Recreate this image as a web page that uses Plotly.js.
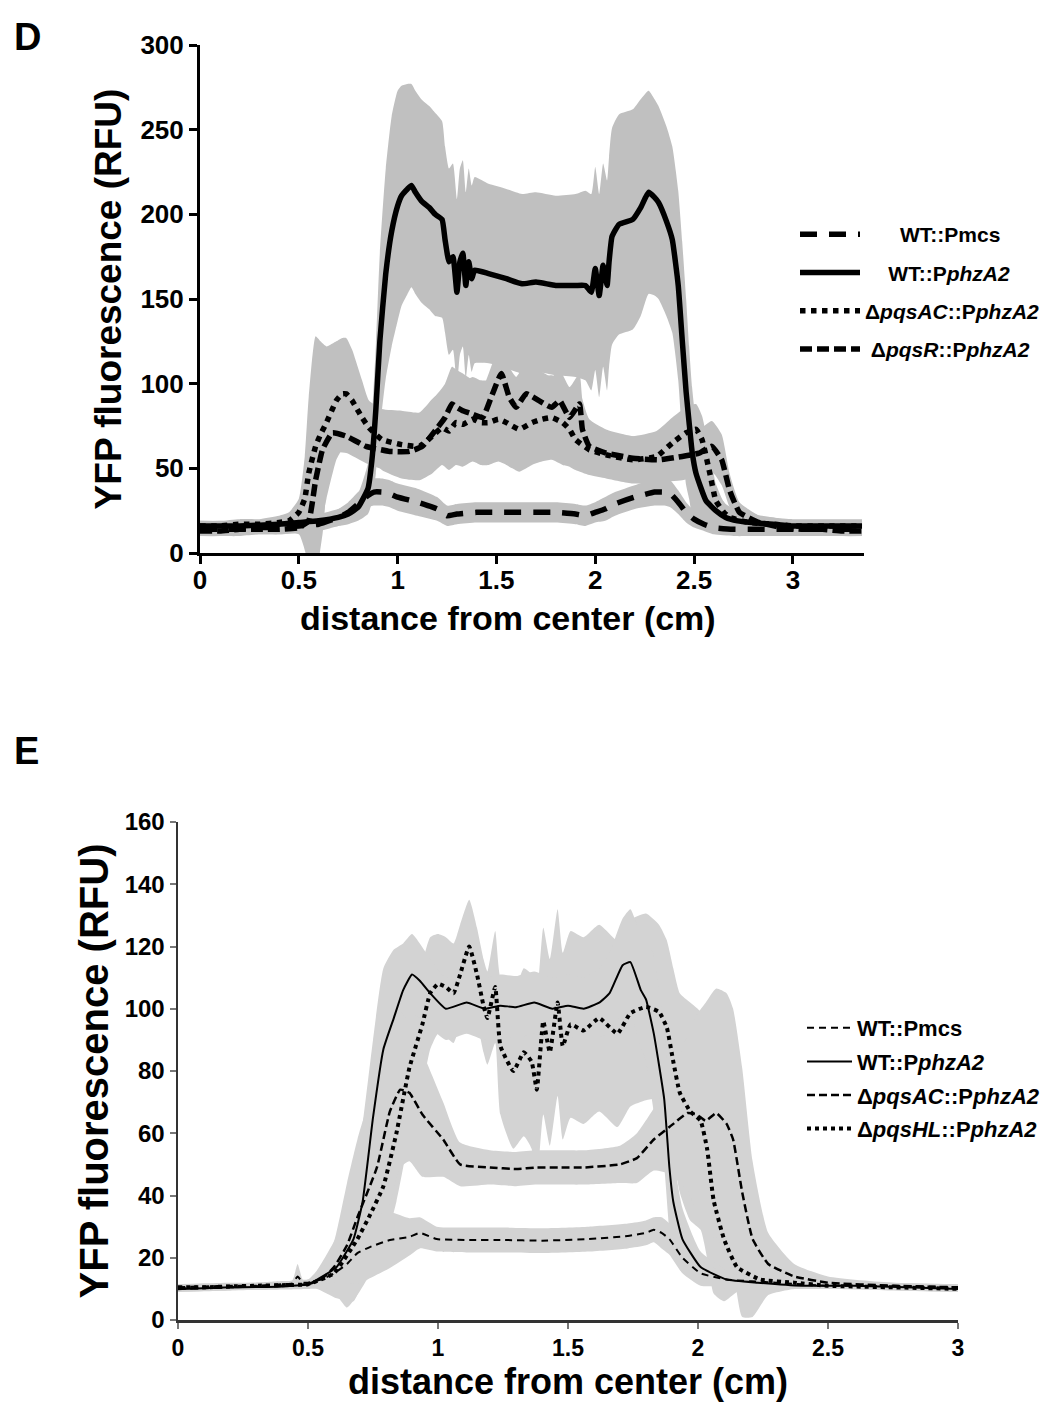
<!DOCTYPE html>
<html>
<head>
<meta charset="utf-8">
<script src="https://cdn.plot.ly/plotly-3.0.1.min.js"></script>
<style>html,body{margin:0;padding:0;background:#fff;}#chart{width:1045px;height:1404px;}</style>
</head>
<body>
<div id="chart"></div>
<script>
// ---------------- Panel D data ----------------
const D_names = ['WT::Pmcs', 'WT::P<i>phzA2</i>', 'Δ<i>pqsAC</i>::P<i>phzA2</i>', 'Δ<i>pqsR</i>::P<i>phzA2</i>'];

const D_x_Pmcs = [0,0.1,0.2,0.3,0.4,0.5,0.6,0.7,0.75,0.8,0.85,0.88,0.92,0.96,1.0,1.1,1.2,1.25,1.3,1.4,1.5,1.6,1.7,1.8,1.9,1.95,2.0,2.05,2.1,2.2,2.3,2.35,2.38,2.42,2.46,2.5,2.55,2.6,2.7,2.8,2.9,3.0,3.1,3.2,3.3,3.35];
const D_y_Pmcs = [14,14,14,15,15,16,17,21,24,29,34,36,36,35,33,30,26,22,23,24,24,24,24,24,23,22,24,26,29,33,36,36,35,30,24,20,17,15,14,14,14,14,14,14,14,14];
const D_sd_Pmcs = [4,4,4,4,4,4,4,5,6,7,7,8,8,8,8,8,7,6,6,6,6,6,6,6,6,6,6,7,7,7,8,8,8,7,6,5,4,4,4,4,4,4,4,4,4,4];

const D_x_WT = [0,0.2,0.4,0.5,0.6,0.7,0.75,0.8,0.85,0.87,0.89,0.91,0.94,0.97,1.0,1.02,1.05,1.07,1.09,1.12,1.16,1.19,1.225,1.24,1.26,1.28,1.30,1.315,1.33,1.345,1.36,1.375,1.39,1.46,1.55,1.63,1.7,1.8,1.9,1.95,1.98,2.0,2.02,2.04,2.06,2.07,2.085,2.12,2.19,2.23,2.27,2.3,2.32,2.36,2.39,2.42,2.44,2.46,2.475,2.49,2.51,2.56,2.61,2.66,2.72,2.79,2.9,3.0,3.1,3.2,3.35];
const D_y_WT = [16,16,17,18,19, 21,23,27,38,55, 85,125,165,190,205, 211,215,217,213,208, 204,200,197,185,172, 175,154,172,177,158, 172,162,167,165,162, 159,160,158,158,158, 154,168,152,170,158, 172,187,194,197,204, 213,210,207,196,185, 158,126,95,77,60, 47,31,25,21,19, 18,17,16,16,16, 16];
const D_sd_WT = [3,3,3,3,4, 5,6,8,15,25, 38,52,62,68,68, 65,62,60,60,60, 60,60,58,55,55, 55,55,55,55,55, 55,55,55,53,53, 53,53,53,54,56, 58,60,60,60,62, 62,64,65,65,64, 60,58,57,56,55, 56,58,55,45,38, 30,18,12,8,6, 5,4,4,4,4, 4];

const D_x_AC = [0,0.1,0.2,0.3,0.4,0.45,0.5,0.53,0.55,0.585,0.61,0.64,0.69,0.72,0.74,0.77,0.79,0.82,0.855,0.92,1.02,1.11,1.175,1.225,1.26,1.295,1.33,1.38,1.42,1.46,1.51,1.55,1.58,1.615,1.68,1.73,1.78,1.835,1.87,1.90,1.97,2.055,2.19,2.31,2.39,2.46,2.51,2.54,2.58,2.61,2.65,2.68,2.78,2.9,3.0,3.1,3.2,3.35];
const D_y_AC = [16,16,17,17,18, 19,24,32,47,63, 70,77,90,94,94, 90,86,80,74,67, 64,63,69,74,72, 77,76,79,77,77, 79,77,75,73,77, 79,80,77,73,67, 61,58,55,57,65, 71,73,67,47,31, 24,21,18,17,16, 16,16,16];
const D_sd_AC = [3,3,3,3,4, 5,8,25,45,65, 55,45,35,33,33, 30,27,22,16,18, 20,20,22,22,23, 25,25,25,25,25, 25,25,25,25,25, 25,25,25,22,18, 15,14,14,15,15, 15,15,14,12,10, 6,5,4,4,3, 3,3,3];

const D_x_R = [0,0.1,0.2,0.3,0.4,0.5,0.55,0.585,0.62,0.67,0.74,0.84,0.96,1.06,1.125,1.195,1.24,1.275,1.3,1.33,1.38,1.43,1.48,1.525,1.565,1.6,1.65,1.715,1.78,1.82,1.87,1.92,1.935,1.97,2.055,2.19,2.32,2.44,2.525,2.59,2.64,2.68,2.73,2.83,2.95,3.05,3.15,3.25,3.35];
const D_y_R = [13,13,14,14,14, 15,19,43,61,71, 69,63,60,60,63, 73,80,88,86,84, 82,80,94,106,92, 86,94,90,86,90, 80,88,73,63,59, 56,55,57,59,63, 55,37,24,18,15, 14,14,13,13];
const D_sd_R = [3,3,3,3,3, 4,25,55,50,12, 10,10,12,15,18, 20,20,22,22,22, 20,18,18,18,18, 18,18,18,18,18, 18,18,18,16,14, 13,13,14,14,15, 15,10,6,4,3, 3,3,3,3];

const D_xticks = [0,0.5,1,1.5,2,2.5,3];
const D_yticks = [0,50,100,150,200,250,300];

// ---------------- Panel E data ----------------
const E_names = ['WT::Pmcs', 'WT::P<i>phzA2</i>', 'Δ<i>pqsAC</i>::P<i>phzA2</i>', 'Δ<i>pqsHL</i>::P<i>phzA2</i>'];

const E_x_Pmcs = [0,0.1,0.2,0.3,0.4,0.44,0.46,0.48,0.5,0.55,0.6,0.65,0.69,0.74,0.815,0.89,0.93,0.995,1.12,1.25,1.4,1.58,1.73,1.8,1.83,1.86,1.89,1.94,2.01,2.11,2.3,2.5,2.75,3.0];
const E_y_Pmcs = [10.5,10.8,11,11,11.5, 11.8,14,12,12,13, 15,18,21.5,23.5,25.7, 26.7,28,26,25.7,25.7, 25.5,26,27,28,29, 28,26,20,15,13, 12,11,11,10.5];
const E_sd_Pmcs = [1,1,1,1,1, 1,4,1,1,1.5, 3,6,10,10,9, 6,5,4,4,4, 4,4,4,4,4, 5,5,5,4,2, 1,1,1,1];

const E_x_WT = [0,0.1,0.2,0.3,0.4,0.5,0.535,0.61,0.675,0.71,0.75,0.79,0.83,0.866,0.9,0.93,0.97,1.03,1.11,1.18,1.24,1.3,1.37,1.44,1.5,1.56,1.62,1.66,1.71,1.74,1.78,1.8,1.83,1.87,1.89,1.905,1.94,2.01,2.11,2.23,2.4,2.6,2.8,3.0];
const E_y_WT = [10,10.2,10.5,10.6,10.8, 11.5,13,17,26,38, 65,87,97,106,111, 109,105,100,102,100, 101,100.5,102,100,101, 100,102,105,114,115, 106,103,92,71,49, 38,26,17,13,12, 11,11,10.5,10];
const E_sd_WT = [1,1,1,1,1, 1.5,3,10,20,25, 25,26,22,15,13, 12,11,10,10,10, 10,10,10,10,10, 10,11,13,15,17, 18,20,25,22,20, 15,10,5,3,2, 1,1,1,1];

const E_x_AC = [0,0.1,0.2,0.3,0.4,0.5,0.55,0.6,0.65,0.69,0.765,0.815,0.855,0.89,0.94,1.02,1.085,1.2,1.3,1.38,1.47,1.56,1.7,1.765,1.83,1.89,1.96,1.995,2.03,2.07,2.11,2.135,2.17,2.21,2.27,2.37,2.5,2.75,3.0];
const E_y_AC = [10,10.3,10.5,10.8,11, 11.5,13,17,24,33, 49,67,74,73,66, 58,50,49,48.5,49, 49,49,50,52,58, 62,66.5,66,64,66.5, 63,58,41,26,18, 14,12,11,10.5];
const E_sd_AC = [1,1,1,1,1, 1,2,8,20,25, 30,30,25,22,20, 12,7,5.5,5.5,5.5, 5.5,5.5,6,8,10, 15,25,32,38,40, 42,42,40,25,10, 4,2,1,1];

const E_x_HL = [0,0.1,0.2,0.3,0.4,0.5,0.6,0.69,0.74,0.79,0.84,0.89,0.94,0.97,1.0,1.03,1.06,1.085,1.12,1.15,1.175,1.19,1.22,1.24,1.29,1.33,1.36,1.38,1.405,1.43,1.46,1.48,1.51,1.56,1.62,1.69,1.74,1.8,1.85,1.88,1.905,1.93,1.97,2.01,2.035,2.06,2.1,2.15,2.24,2.37,2.5,2.75,3.0];
const E_y_HL = [10.5,10.5,10.8,11,11.2, 11.5,15,26,34,43, 60,81,95,105,108, 107,105,111,120,111, 101,97,107,88,80, 86,83,74,96,86, 102,88,95,93,97, 92,98.6,100.6,99,94, 83,73,67,64,55, 38.5,26,17,13,12, 11,10.5,10];
const E_sd_HL = [1,1,1,1,1, 1,3,12,18,20, 22,22,20,18,16, 16,16,16,15,15, 15,15,18,22,25, 27,28,30,30,30, 30,30,30,30,30, 30,30,30,28,28, 30,32,35,35,35, 30,20,8,3,2, 1,1,1];

const E_xticks = [0,0.5,1,1.5,2,2.5,3];
const E_yticks = [0,20,40,60,80,100,120,140,160];

// ---------------- build traces ----------------
const FONT = 'Liberation Sans, Arial, Helvetica, sans-serif';
const NB = '\u00a0';

function band(x, y, sd, xa, ya, color) {
  const lo = y.map((v, i) => v - sd[i]);
  const hi = y.map((v, i) => v + sd[i]);
  const common = {x: x, xaxis: xa, yaxis: ya, mode: 'lines', showlegend: false, hoverinfo: 'skip',
                  line: {width: 0, shape: 'spline', smoothing: 0.5, color: color}};
  return [Object.assign({}, common, {y: lo}),
          Object.assign({}, common, {y: hi, fill: 'tonexty', fillcolor: color})];
}
function line(x, y, name, xa, ya, lw, dash, legend, group) {
  return {x: x, y: y, name: name, xaxis: xa, yaxis: ya, mode: 'lines', legend: legend, legendgroup: group,
          line: {color: '#000', width: lw, dash: dash, shape: 'spline', smoothing: 0.4}};
}

const gD = '#c0c0c0', gE = '#d3d3d3';
let traces = [];
traces = traces.concat(band(D_x_WT, D_y_WT, D_sd_WT, 'x', 'y', gD));
traces = traces.concat(band(D_x_AC, D_y_AC, D_sd_AC, 'x', 'y', gD));
traces = traces.concat(band(D_x_R, D_y_R, D_sd_R, 'x', 'y', gD));
traces = traces.concat(band(D_x_Pmcs, D_y_Pmcs, D_sd_Pmcs, 'x', 'y', gD));
traces = traces.concat(band(E_x_HL, E_y_HL, E_sd_HL, 'x2', 'y2', gE));
traces = traces.concat(band(E_x_WT, E_y_WT, E_sd_WT, 'x2', 'y2', gE));
traces = traces.concat(band(E_x_AC, E_y_AC, E_sd_AC, 'x2', 'y2', gE));
traces = traces.concat(band(E_x_Pmcs, E_y_Pmcs, E_sd_Pmcs, 'x2', 'y2', gE));

// legend text padding (centres the shorter labels like the original)
const D_pad = [6, 4, 0, 1];
const padD = i => NB.repeat(D_pad[i]) + D_names[i];

traces.push(line(D_x_Pmcs, D_y_Pmcs, padD(0), 'x', 'y', 5.5, '17px,12px', 'legend', 'd1'));
traces.push(line(D_x_WT, D_y_WT, padD(1), 'x', 'y', 5.5, 'solid', 'legend', 'd2'));
traces.push(line(D_x_AC, D_y_AC, padD(2), 'x', 'y', 5.5, 'dot', 'legend', 'd3'));
traces.push(line(D_x_R, D_y_R, padD(3), 'x', 'y', 5.5, '12px,5px', 'legend', 'd4'));

traces.push(line(E_x_Pmcs, E_y_Pmcs, E_names[0], 'x2', 'y2', 2, '7px,5px', 'legend2', 'e1'));
traces.push(line(E_x_WT, E_y_WT, E_names[1], 'x2', 'y2', 2, 'solid', 'legend2', 'e2'));
traces.push(line(E_x_AC, E_y_AC, E_names[2], 'x2', 'y2', 2.5, '8px,4px', 'legend2', 'e3'));
traces.push(line(E_x_HL, E_y_HL, E_names[3], 'x2', 'y2', 4, 'dot', 'legend2', 'e4'));

const W = 1045, H = 1404;
const px = v => v / W, py = v => 1 - v / H;

function axisBase(o) {
  return Object.assign({showgrid: false, zeroline: false, showline: true, ticks: 'outside',
    tickfont: {family: FONT, size: 26, color: '#000', weight: 'bold'}}, o);
}

const layout = {
  width: W, height: H, margin: {l: 0, r: 0, t: 0, b: 0},
  paper_bgcolor: '#fff', plot_bgcolor: 'rgba(0,0,0,0)',
  font: {family: FONT, color: '#000'},
  xaxis: axisBase({domain: [px(200), px(864)], range: [0, 3.36], anchor: 'y',
    linecolor: '#000', linewidth: 3, ticklen: 8, tickwidth: 3, tickcolor: '#000',
    ticklabelstandoff: -6,
    tickvals: D_xticks, ticktext: D_xticks.map(String)}),
  yaxis: axisBase({domain: [py(553), py(45)], range: [0, 300], anchor: 'x',
    linecolor: '#000', linewidth: 3, ticklen: 8, tickwidth: 3, tickcolor: '#000',
    tickvals: D_yticks, ticktext: D_yticks.map(String),
    title: {text: 'YFP fluorescence (RFU)', font: {family: FONT, size: 37, weight: 'bold', color: '#000'}, standoff: 8}}),
  xaxis2: axisBase({domain: [px(178), px(958)], range: [0, 3], anchor: 'y2',
    linecolor: '#333', linewidth: 2.5, ticklen: 6, tickwidth: 2, tickcolor: '#777',
    tickvals: E_xticks, ticktext: E_xticks.map(String),
    tickfont: {family: FONT, size: 23, color: '#000', weight: 'bold'},
    title: {text: 'distance from center (cm)', font: {family: FONT, size: 36, weight: 'bold', color: '#000'}, standoff: 4}}),
  yaxis2: axisBase({domain: [py(1320), py(822)], range: [0, 160], anchor: 'x2',
    linecolor: '#333', linewidth: 2.5, ticklen: 6, tickwidth: 2, tickcolor: '#777',
    tickvals: E_yticks, ticktext: E_yticks.map(String),
    tickfont: {family: FONT, size: 24, color: '#000', weight: 'bold'},
    title: {text: 'YFP fluorescence (RFU)', font: {family: FONT, size: 40, weight: 'bold', color: '#000'}, standoff: 4}}),
  legend: {x: px(795), y: py(214), xanchor: 'left', yanchor: 'top', bgcolor: 'rgba(0,0,0,0)',
    traceorder: 'grouped', tracegroupgap: 8, itemwidth: 60,
    font: {family: FONT, size: 21, weight: 'bold', color: '#000'}},
  legend2: {x: px(802), y: py(1007), xanchor: 'left', yanchor: 'top', bgcolor: 'rgba(0,0,0,0)',
    traceorder: 'grouped', tracegroupgap: 2, itemwidth: 45,
    font: {family: FONT, size: 22, weight: 'bold', color: '#000'}},
  annotations: [
    {text: 'distance from center (cm)', xref: 'paper', yref: 'paper', x: px(508), y: py(618),
     xanchor: 'center', yanchor: 'middle', showarrow: false,
     font: {family: FONT, size: 34, weight: 'bold', color: '#000'}},
    {text: 'D', xref: 'paper', yref: 'paper', x: px(12), y: py(14), xanchor: 'left', yanchor: 'top', showarrow: false,
     font: {family: FONT, size: 38, weight: 'bold', color: '#000'}},
    {text: 'E', xref: 'paper', yref: 'paper', x: px(12), y: py(728), xanchor: 'left', yanchor: 'top', showarrow: false,
     font: {family: FONT, size: 38, weight: 'bold', color: '#000'}}
  ]
};

Plotly.newPlot('chart', traces, layout, {staticPlot: true, displayModeBar: false});
</script>
</body>
</html>
